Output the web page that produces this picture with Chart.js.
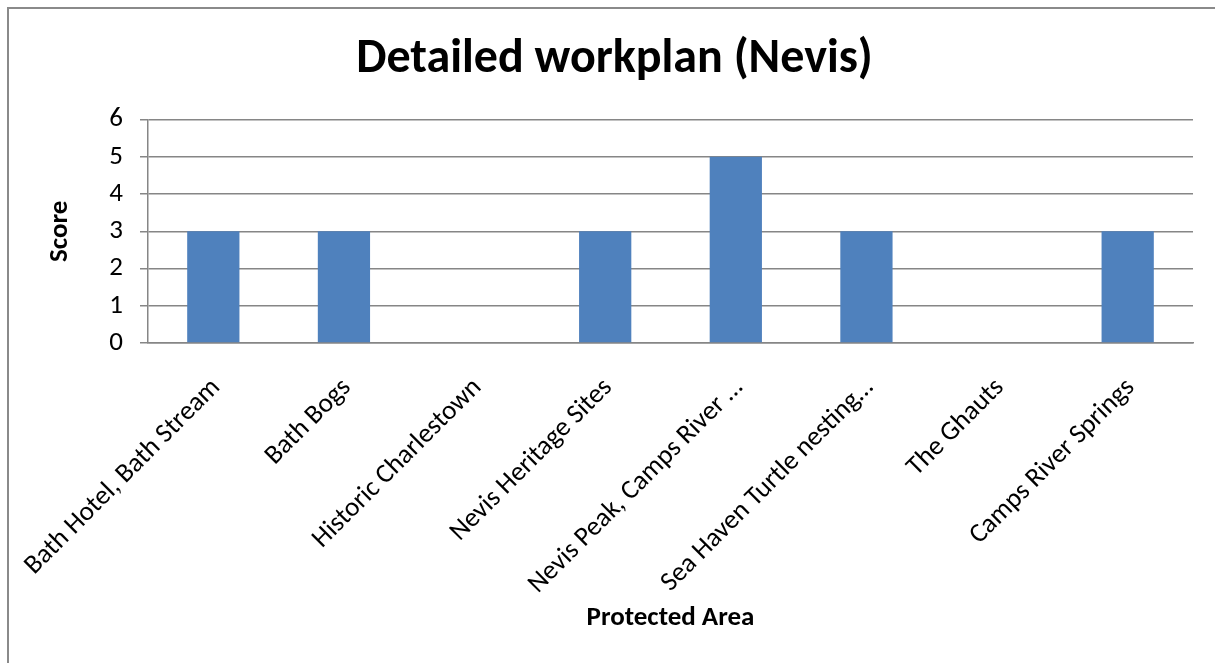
<!DOCTYPE html>
<html>
<head>
<meta charset="utf-8">
<script src="https://cdn.jsdelivr.net/npm/chart.js@4.4.0/dist/chart.umd.min.js"></script>
<style>
  html, body { margin: 0; padding: 0; background: #fff; }
  #wrap { position: relative; width: 1215px; height: 663px; overflow: hidden; }
  #frame { position: absolute; left: 7px; top: 7px; width: 1220px; height: 670px; border: 2px solid #8a8a8a; box-sizing: border-box; }
  canvas { position: absolute; left: 0; top: 0; }
</style>
</head>
<body>
<div id="wrap">
  <div id="frame"></div>
  <canvas id="chart" width="1215" height="663"></canvas>
</div>
<script>
// chart data
const areas = [
    'Bath Hotel, Bath Stream',
    'Bath Bogs',
    'Historic Charlestown',
    'Nevis Heritage Sites',
    'Nevis Peak, Camps River \u2026',
    'Sea Haven Turtle nesting\u2026',
    'The Ghauts',
    'Camps River Springs'
];
const scores = [3, 3, 0, 3, 5, 3, 0, 3];
const scoreTicks = [0, 1, 2, 3, 4, 5, 6];

const FONT = "Carlito, Lato, 'Open Sans', sans-serif";
const GRID = '#868686';

const ctx = document.getElementById('chart').getContext('2d');
new Chart(ctx, {
    type: 'bar',
    data: {
        labels: areas,
        datasets: [{
            label: 'Score',
            data: scores,
            backgroundColor: '#4F81BD',
            borderWidth: 0,
            barPercentage: 0.4,
            categoryPercentage: 1.0
        }]
    },
    options: {
        responsive: false,
        animation: false,
        // left padding pushes the title centre right, y axis width makes up for it
        layout: { padding: { left: 36, right: 22, top: 0, bottom: 0 } },
        plugins: {
            legend: { display: false },
            tooltip: { enabled: false },
            title: {
                display: true,
                text: 'Detailed workplan (Nevis)',
                color: '#000',
                font: { family: FONT, size: 48, weight: 'bold' },
                padding: { top: 31, bottom: 31 }
            }
        },
        scales: {
            x: {
                grid: { display: true, drawOnChartArea: false, drawTicks: false },
                border: { display: true, color: GRID, width: 1.5 },
                ticks: {
                    color: '#000',
                    autoSkip: false,
                    maxRotation: 45,
                    minRotation: 45,
                    padding: 29,
                    labelOffset: 3,
                    font: { family: FONT, size: 27 }
                },
                title: {
                    display: true,
                    text: 'Protected Area',
                    color: '#000',
                    font: { family: FONT, size: 27, weight: 'bold' },
                    padding: { top: 0, bottom: 29 }
                },
                afterFit: scale => {
                    scale.height = 663 - 343;
                    // rotated labels may overflow left, don't let that move the plot
                    scale.paddingLeft = 0;
                    scale.paddingRight = 0;
                }
            },
            y: {
                min: 0,
                max: 6,
                afterBuildTicks: scale => {
                    scale.ticks = scoreTicks.map(v => ({ value: v }));
                },
                grid: { color: GRID, lineWidth: 1.5, tickLength: 8, drawTicks: true },
                border: { display: true, color: GRID, width: 1.5 },
                ticks: {
                    color: '#000',
                    padding: 17,
                    font: { family: FONT, size: 27 }
                },
                title: {
                    display: true,
                    text: 'Score',
                    color: '#000',
                    font: { family: FONT, size: 27, weight: 'bold' },
                    padding: { top: 8, bottom: 0 }
                },
                afterFit: scale => { scale.width = 112; }
            }
        }
    }
});
</script>
</body>
</html>
